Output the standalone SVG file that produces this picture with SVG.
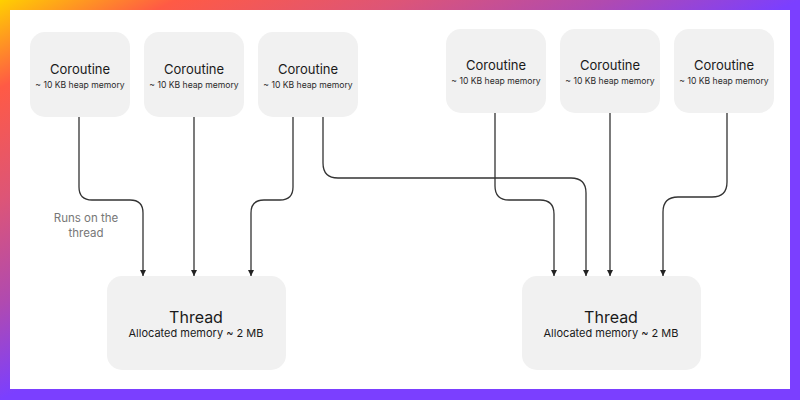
<svg xmlns="http://www.w3.org/2000/svg" width="800" height="400" viewBox="0 0 800 400">
<defs>
<linearGradient id="frame" x1="0" y1="0" x2="1" y2="1">
<stop offset="0" stop-color="#FFD000"/>
<stop offset="0.11" stop-color="#FF5A45"/>
<stop offset="0.25" stop-color="#DD5577"/>
<stop offset="0.38" stop-color="#B04AB0"/>
<stop offset="0.5" stop-color="#7B3FFF"/>
<stop offset="1" stop-color="#7B3FFF"/>
</linearGradient>
<marker id="arr" viewBox="0 0 6 6" refX="6" refY="3" markerWidth="6" markerHeight="6" markerUnits="userSpaceOnUse" orient="auto">
<path d="M0,0 L6,3 L0,6 Z" fill="#222"/>
</marker>
</defs>
<style>
.box{fill:#F1F1F1;}
.t1{font-family:Inter,"Liberation Sans",sans-serif;font-size:13px;fill:#1a1a1a;text-anchor:middle;}
.t2{font-family:Inter,"Liberation Sans",sans-serif;font-size:8.6px;fill:#2a2a2a;text-anchor:middle;}
.h1{font-family:Inter,"Liberation Sans",sans-serif;font-size:16px;fill:#1a1a1a;text-anchor:middle;}
.h2{font-family:Inter,"Liberation Sans",sans-serif;font-size:11px;fill:#1a1a1a;text-anchor:middle;}
.lbl{font-family:Inter,"Liberation Sans",sans-serif;font-size:11.5px;fill:#777;text-anchor:middle;}
.c{fill:none;stroke:#333;stroke-width:1.3;}
</style>
<rect x="0" y="0" width="800" height="400" fill="url(#frame)"/>
<rect x="10" y="10" width="780" height="379" fill="#FFFFFF"/>

<g id="connectors">
<path class="c" marker-end="url(#arr)" d="M79,117 V187 Q79,200 92,200 H130 Q143,200 143,213 V276"/>
<path class="c" marker-end="url(#arr)" d="M194,117 V276"/>
<path class="c" marker-end="url(#arr)" d="M293,117 V187 Q293,200 280,200 H264 Q251,200 251,213 V276"/>
<path class="c" marker-end="url(#arr)" d="M323,117 V163 Q323,178 338,178 H571 Q586,178 586,193 V276"/>
<path class="c" marker-end="url(#arr)" d="M495,113 V186 Q495,200 509,200 H540 Q554,200 554,214 V276"/>
<path class="c" marker-end="url(#arr)" d="M610,113 V276"/>
<path class="c" marker-end="url(#arr)" d="M727,113 V182 Q727,197 712,197 H678 Q663,197 663,212 V276"/>
</g>

<g id="coroutine1">
<rect class="box" x="30" y="32" width="100" height="85" rx="15"/>
<text class="t1" x="80" y="74">Coroutine</text>
<text class="t2" x="80" y="88">~ 10 KB heap memory</text>
</g>
<g id="coroutine2">
<rect class="box" x="144" y="32" width="100" height="85" rx="15"/>
<text class="t1" x="194" y="74">Coroutine</text>
<text class="t2" x="194" y="88">~ 10 KB heap memory</text>
</g>
<g id="coroutine3">
<rect class="box" x="258" y="32" width="100" height="85" rx="15"/>
<text class="t1" x="308" y="74">Coroutine</text>
<text class="t2" x="308" y="88">~ 10 KB heap memory</text>
</g>
<g id="coroutine4">
<rect class="box" x="446" y="29" width="100" height="84" rx="15"/>
<text class="t1" x="496" y="70">Coroutine</text>
<text class="t2" x="496" y="84">~ 10 KB heap memory</text>
</g>
<g id="coroutine5">
<rect class="box" x="560" y="29" width="100" height="84" rx="15"/>
<text class="t1" x="610" y="70">Coroutine</text>
<text class="t2" x="610" y="84">~ 10 KB heap memory</text>
</g>
<g id="coroutine6">
<rect class="box" x="674" y="29" width="100" height="84" rx="15"/>
<text class="t1" x="724" y="70">Coroutine</text>
<text class="t2" x="724" y="84">~ 10 KB heap memory</text>
</g>

<g id="thread1">
<rect class="box" x="107" y="276" width="179" height="94" rx="15"/>
<text class="h1" x="196" y="323">Thread</text>
<text class="h2" x="196" y="337">Allocated memory ~ 2 MB</text>
</g>
<g id="thread2">
<rect class="box" x="522" y="276" width="179" height="94" rx="15"/>
<text class="h1" x="611" y="323">Thread</text>
<text class="h2" x="611" y="337">Allocated memory ~ 2 MB</text>
</g>

<g id="label">
<text class="lbl" x="86" y="222">Runs on the</text>
<text class="lbl" x="86" y="237">thread</text>
</g>
</svg>
